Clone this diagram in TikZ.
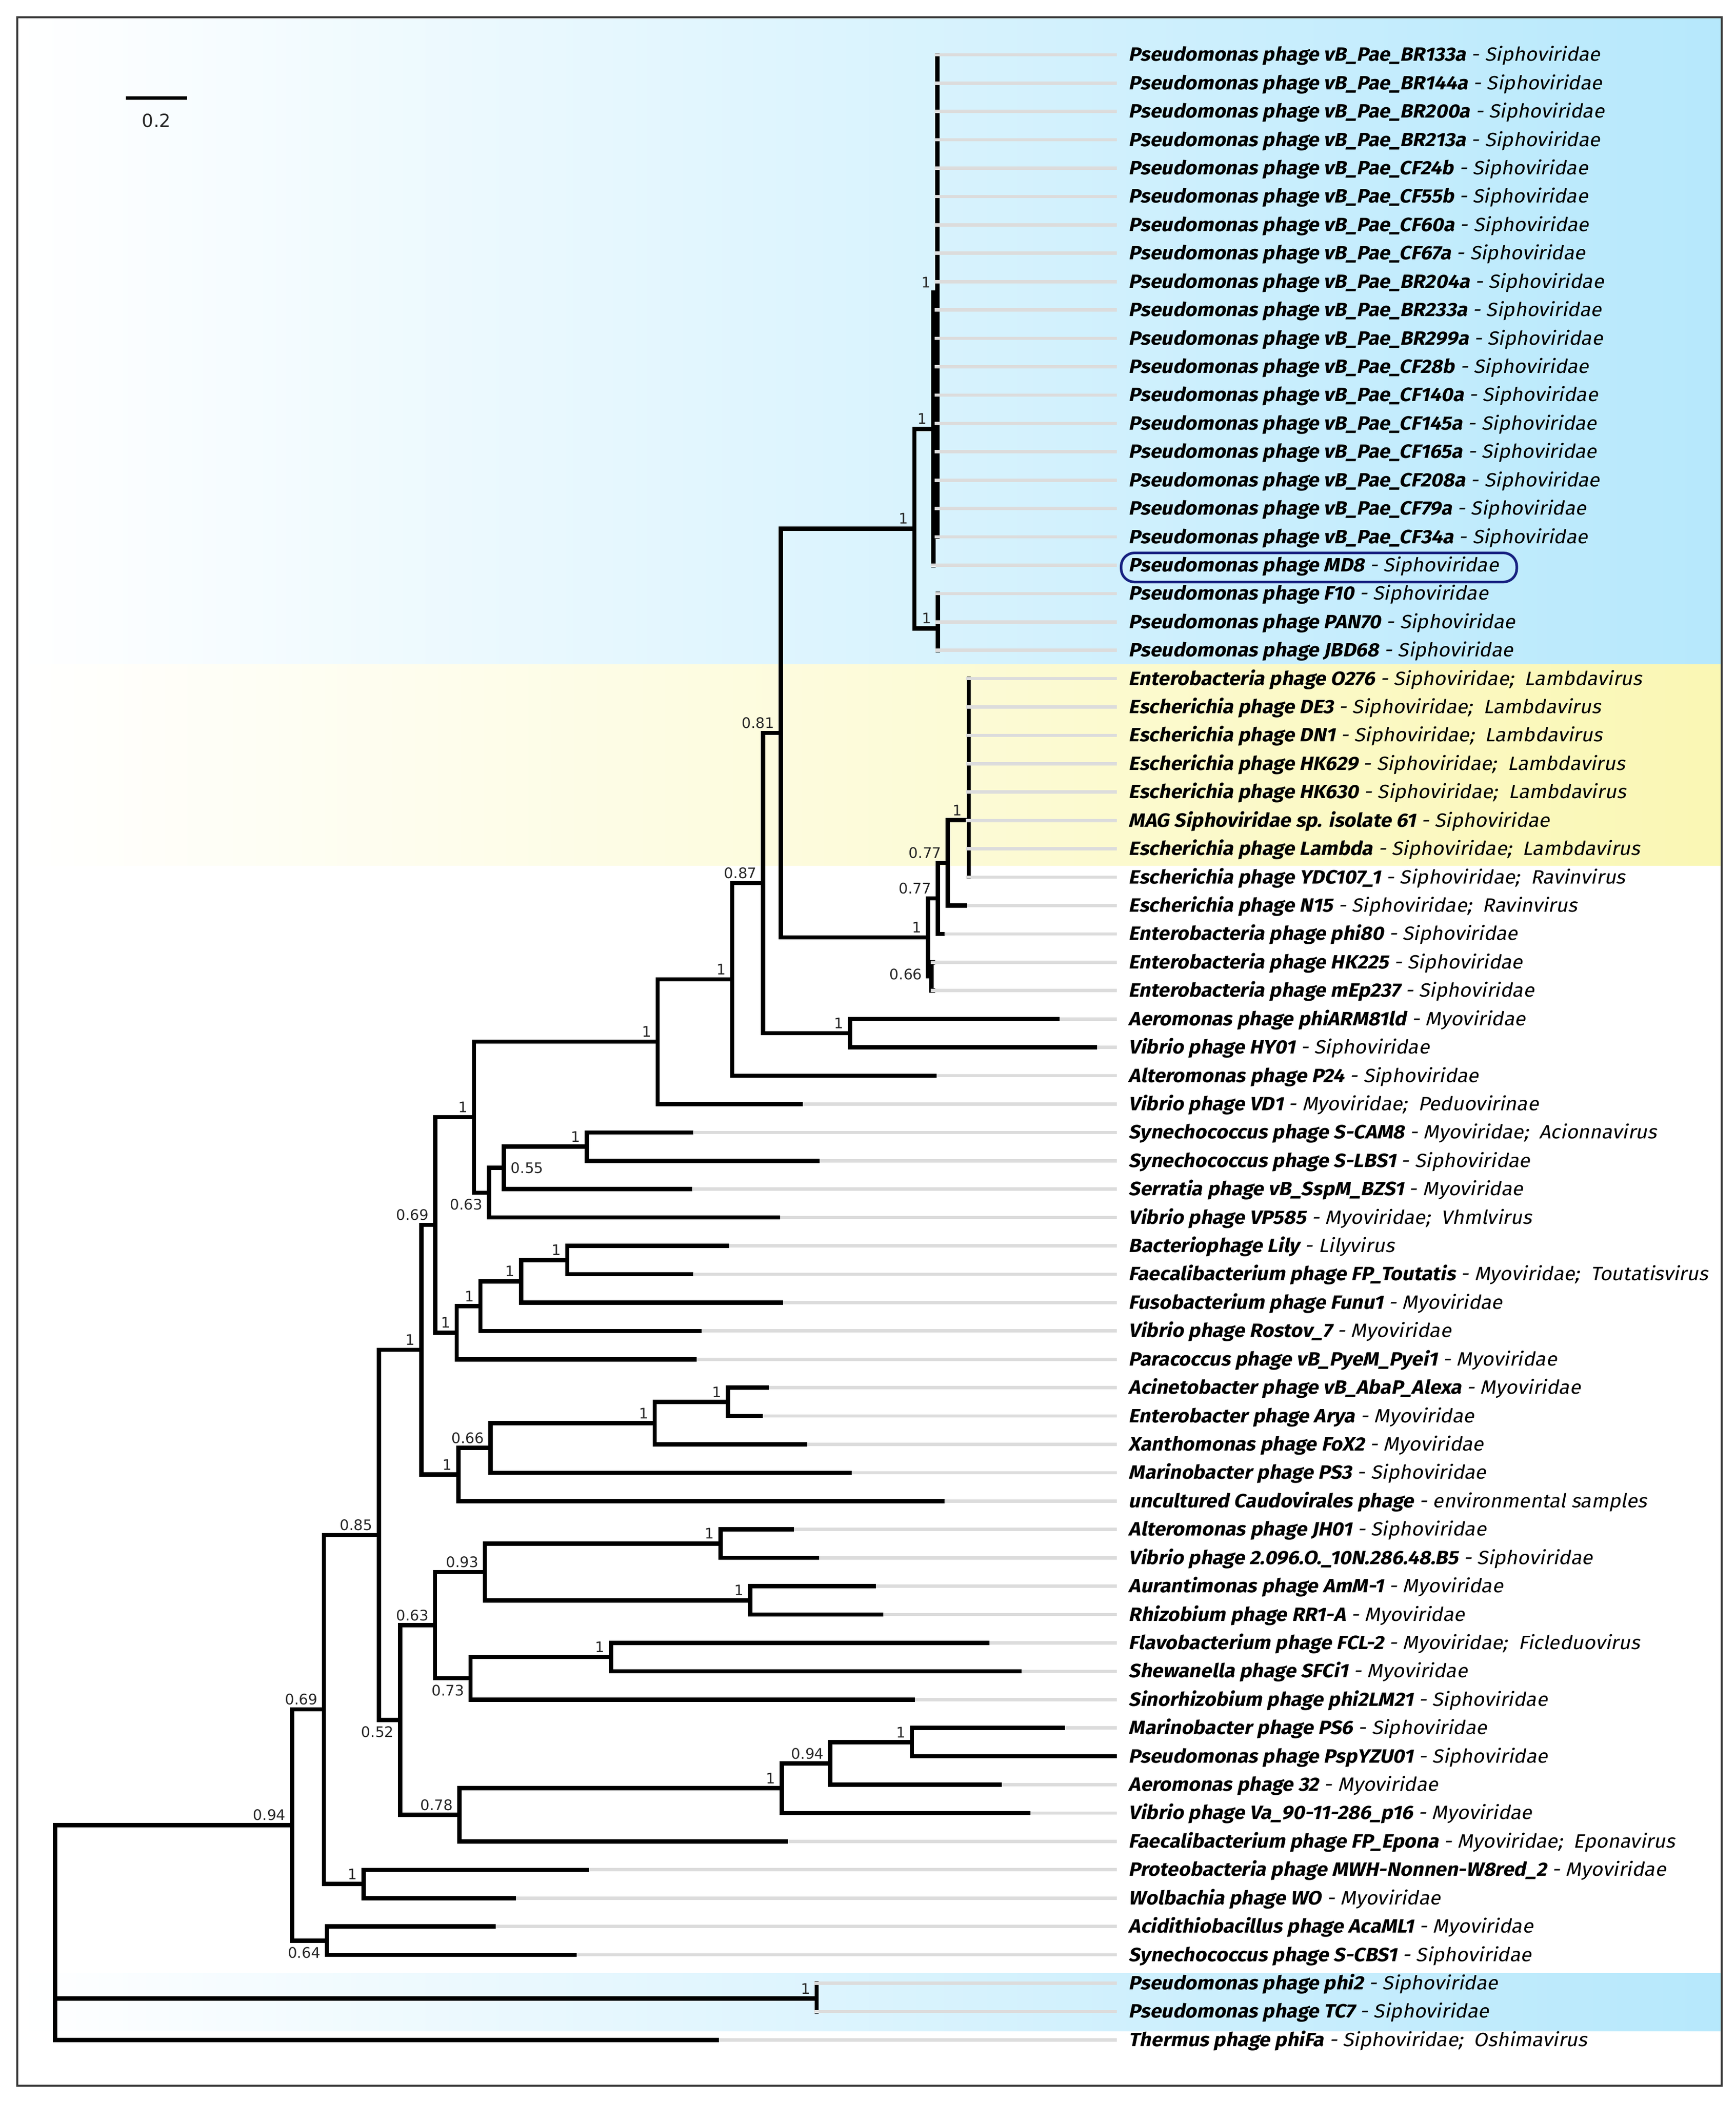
\documentclass[tikz,border=0pt]{standalone}
\usepackage{fontspec}
\setmainfont{DejaVu Sans}
\newfontfamily\lblfont{Fira Sans}[ItalicFont={Fira Sans}, ItalicFeatures={FakeSlant=0.2}, BoldItalicFont={Fira Sans Bold}, BoldItalicFeatures={FakeSlant=0.2}, FakeStretch=1.05]
\definecolor{bandblue}{RGB}{182,232,252}
\definecolor{bandyellow}{RGB}{250,247,180}
\definecolor{leafgray}{RGB}{220,220,220}
\definecolor{ringblue}{RGB}{22,32,128}
\definecolor{framegray}{RGB}{60,60,60}
\newcommand{\tx}[2]{{\bfseries #1} - #2}
\newcommand{\leaf}[4]{%
  \coordinate (t#1) at (#2, {41+(#1-1)*21.235});
  \node[lbl] (l#1) at (836.5, {45.8+(#1-1)*21.235}) {\tx{#3}{#4}};
}
\tikzset{
  br/.style={line width=1.8pt, line cap=rect, black},
  gry/.style={line width=1.4pt, leafgray, shorten <=0.9pt},
  gryx/.style={line width=1.4pt, leafgray, shorten <=-0.04cm},
  lbl/.style={anchor=base west, inner xsep=0.17cm, inner ysep=0pt, text=black,
    font=\lblfont\itshape\fontsize{8.2}{9.5}\selectfont},
  supbase/.style={inner sep=0pt, text=black!85, font=\fontsize{6.2}{7}\selectfont},
  supa/.style={supbase, anchor=base east, shift={(-4.5,-3.5)}},
  supb/.style={supbase, anchor=north east, shift={(-4.5,4.5)}},
  supr/.style={supbase, anchor=west, shift={(5,0)}},
  frameline/.style={draw=framegray, line width=0.8pt},
  ring/.style={draw=ringblue, line width=1.1pt, rounded corners=0.2cm,
    minimum width=5.928cm, minimum height=0.436cm, inner sep=0pt},
}
\begin{document}
\begin{tikzpicture}[x=0.02cm, y=-0.02cm]
\useasboundingbox (0,0) rectangle (1300,1573.2);
\fill[white] (0,0) rectangle (1300,1573.2);
% colour bands
\shade[left color=white, right color=bandblue] (13,13) rectangle (1289.4,497.6);
\shade[left color=white, right color=bandyellow] (13,497.6) rectangle (1289.4,648);
\shade[left color=white, right color=bandblue] (13,1477.5) rectangle (1289.4,1521);
\draw[frameline] (13,13) rectangle (1289.4,1561.6);

% scale bar
\coordinate (sb1) at (94.3,73.3);
\coordinate (sb2) at (140.2,73.3);
\draw[line width=1.5pt] (sb1) -- (sb2);
\node[inner sep=0pt, font=\fontsize{7.7}{9}\selectfont, text=black!85] (sbl) at (117.2,90.3) {0.2};

% leaves
\leaf{1}{702}{Pseudomonas phage vB\_Pae\_BR133a}{Siphoviridae}
\leaf{2}{702}{Pseudomonas phage vB\_Pae\_BR144a}{Siphoviridae}
\leaf{3}{702}{Pseudomonas phage vB\_Pae\_BR200a}{Siphoviridae}
\leaf{4}{702}{Pseudomonas phage vB\_Pae\_BR213a}{Siphoviridae}
\leaf{5}{702}{Pseudomonas phage vB\_Pae\_CF24b}{Siphoviridae}
\leaf{6}{702}{Pseudomonas phage vB\_Pae\_CF55b}{Siphoviridae}
\leaf{7}{702}{Pseudomonas phage vB\_Pae\_CF60a}{Siphoviridae}
\leaf{8}{702}{Pseudomonas phage vB\_Pae\_CF67a}{Siphoviridae}
\leaf{9}{702}{Pseudomonas phage vB\_Pae\_BR204a}{Siphoviridae}
\leaf{10}{702}{Pseudomonas phage vB\_Pae\_BR233a}{Siphoviridae}
\leaf{11}{702}{Pseudomonas phage vB\_Pae\_BR299a}{Siphoviridae}
\leaf{12}{702}{Pseudomonas phage vB\_Pae\_CF28b}{Siphoviridae}
\leaf{13}{702}{Pseudomonas phage vB\_Pae\_CF140a}{Siphoviridae}
\leaf{14}{702}{Pseudomonas phage vB\_Pae\_CF145a}{Siphoviridae}
\leaf{15}{702}{Pseudomonas phage vB\_Pae\_CF165a}{Siphoviridae}
\leaf{16}{702}{Pseudomonas phage vB\_Pae\_CF208a}{Siphoviridae}
\leaf{17}{702}{Pseudomonas phage vB\_Pae\_CF79a}{Siphoviridae}
\leaf{18}{702}{Pseudomonas phage vB\_Pae\_CF34a}{Siphoviridae}
\leaf{19}{699.2}{Pseudomonas phage MD8}{Siphoviridae}
\leaf{20}{702.5}{Pseudomonas phage F10}{Siphoviridae}
\leaf{21}{702.5}{Pseudomonas phage PAN70}{Siphoviridae}
\leaf{22}{702.5}{Pseudomonas phage JBD68}{Siphoviridae}
\leaf{23}{725.5}{Enterobacteria phage O276}{Siphoviridae;\ \ Lambdavirus}
\leaf{24}{725.5}{Escherichia phage DE3}{Siphoviridae;\ \ Lambdavirus}
\leaf{25}{725.5}{Escherichia phage DN1}{Siphoviridae;\ \ Lambdavirus}
\leaf{26}{725.5}{Escherichia phage HK629}{Siphoviridae;\ \ Lambdavirus}
\leaf{27}{725.5}{Escherichia phage HK630}{Siphoviridae;\ \ Lambdavirus}
\leaf{28}{725.5}{MAG Siphoviridae sp. isolate 61}{Siphoviridae}
\leaf{29}{725.5}{Escherichia phage Lambda}{Siphoviridae;\ \ Lambdavirus}
\leaf{30}{725.5}{Escherichia phage YDC107\_1}{Siphoviridae;\ \ Ravinvirus}
\leaf{31}{722.8}{Escherichia phage N15}{Siphoviridae;\ \ Ravinvirus}
\leaf{32}{706}{Enterobacteria phage phi80}{Siphoviridae}
\leaf{33}{699}{Enterobacteria phage HK225}{Siphoviridae}
\leaf{34}{699}{Enterobacteria phage mEp237}{Siphoviridae}
\leaf{35}{792}{Aeromonas phage phiARM81ld}{Myoviridae}
\leaf{36}{820}{Vibrio phage HY01}{Siphoviridae}
\leaf{37}{700}{Alteromonas phage P24}{Siphoviridae}
\leaf{38}{599.7}{Vibrio phage VD1}{Myoviridae;\ \ Peduovirinae}
\leaf{39}{517.6}{Synechococcus phage S-CAM8}{Myoviridae;\ \ Acionnavirus}
\leaf{40}{612.3}{Synechococcus phage S-LBS1}{Siphoviridae}
\leaf{41}{517}{Serratia phage vB\_SspM\_BZS1}{Myoviridae}
\leaf{42}{582.9}{Vibrio phage VP585}{Myoviridae;\ \ Vhmlvirus}
\leaf{43}{544.5}{Bacteriophage Lily}{Lilyvirus}
\leaf{44}{517.6}{Faecalibacterium phage FP\_Toutatis}{Myoviridae;\ \ Toutatisvirus}
\leaf{45}{584.8}{Fusobacterium phage Funu1}{Myoviridae}
\leaf{46}{523.8}{Vibrio phage Rostov\_7}{Myoviridae}
\leaf{47}{520.4}{Paracoccus phage vB\_PyeM\_Pyei1}{Myoviridae}
\leaf{48}{574.4}{Acinetobacter phage vB\_AbaP\_Alexa}{Myoviridae}
\leaf{49}{569.8}{Enterobacter phage Arya}{Myoviridae}
\leaf{50}{603.2}{Xanthomonas phage FoX2}{Myoviridae}
\leaf{51}{636.5}{Marinobacter phage PS3}{Siphoviridae}
\leaf{52}{705.9}{uncultured Caudovirales phage}{environmental samples}
\leaf{53}{593.2}{Alteromonas phage JH01}{Siphoviridae}
\leaf{54}{611.9}{Vibrio phage 2.096.O.\_10N.286.48.B5}{Siphoviridae}
\leaf{55}{654.3}{Aurantimonas phage AmM-1}{Myoviridae}
\leaf{56}{660}{Rhizobium phage RR1-A}{Myoviridae}
\leaf{57}{739.5}{Flavobacterium phage FCL-2}{Myoviridae;\ \ Ficleduovirus}
\leaf{58}{763.6}{Shewanella phage SFCi1}{Myoviridae}
\leaf{59}{683.8}{Sinorhizobium phage phi2LM21}{Siphoviridae}
\leaf{60}{796}{Marinobacter phage PS6}{Siphoviridae}
\leaf{61}{835}{Pseudomonas phage PspYZU01}{Siphoviridae}
\leaf{62}{748.7}{Aeromonas phage 32}{Myoviridae}
\leaf{63}{770.1}{Vibrio phage Va\_90-11-286\_p16}{Myoviridae}
\leaf{64}{588.6}{Faecalibacterium phage FP\_Epona}{Myoviridae;\ \ Eponavirus}
\leaf{65}{439.6}{Proteobacteria phage MWH-Nonnen-W8red\_2}{Myoviridae}
\leaf{66}{385}{Wolbachia phage WO}{Myoviridae}
\leaf{67}{369.7}{Acidithiobacillus phage AcaML1}{Myoviridae}
\leaf{68}{430.5}{Synechococcus phage S-CBS1}{Siphoviridae}
\leaf{69}{611.7}{Pseudomonas phage phi2}{Siphoviridae}
\leaf{70}{611.7}{Pseudomonas phage TC7}{Siphoviridae}
\leaf{71}{536.7}{Thermus phage phiFa}{Siphoviridae;\ \ Oshimavirus}

% highlight of MD8
\node[ring] (md8ring) at (987.9,424.9) {};

% internal nodes
\coordinate (nPAE) at (702,219);
\coordinate (nMD) at (699.2,321.1);
\coordinate (nF10) at (702.5,470.5);
\coordinate (nTop) at (684.9,395.8);
\coordinate (nLam) at (725.5,614.1);
\coordinate (n077a) at (709.9,646.1);
\coordinate (n077b) at (702.4,672.7);
\coordinate (n066) at (697.6,731.1);
\coordinate (nE1) at (695.1,701.9);
\coordinate (n081) at (584.8,548.85);
\coordinate (nARM) at (636.7,773.6);
\coordinate (n087) at (571.6,661.2);
\coordinate (nP24) at (548.5,733.3);
\coordinate (nVD1) at (492.6,780.0);
\coordinate (nCAM) at (439.6,858.55);
\coordinate (n055) at (377.4,874.5);
\coordinate (n063a) at (366.2,893.1);
\coordinate (n1b) at (355.0,836.55);
\coordinate (nLily) at (424.9,943.5);
\coordinate (nFunu) at (390.4,959.4);
\coordinate (nRost) at (359.8,978.0);
\coordinate (nPyei) at (342.1,997.9);
\coordinate (n069a) at (326.0,917.2);
\coordinate (nAlexa) at (545.2,1049.7);
\coordinate (nFoX) at (490.4,1065.6);
\coordinate (n066b) at (367.4,1084.2);
\coordinate (nUnc) at (343.3,1104.1);
\coordinate (n1c) at (315.7,1010.65);
\coordinate (nJH) at (539.7,1155.8);
\coordinate (nAmM) at (561.9,1198.3);
\coordinate (n093) at (363.2,1177.05);
\coordinate (nFCL) at (457.6,1240.8);
\coordinate (n073) at (352.5,1256.7);
\coordinate (n063b) at (325.8,1216.9);
\coordinate (nPS6) at (683.0,1304.5);
\coordinate (n094b) at (621.9,1320.4);
\coordinate (nVa) at (585.6,1339.0);
\coordinate (n078) at (344.1,1358.9);
\coordinate (n052) at (299.8,1287.9);
\coordinate (n085) at (283.8,1149.3);
\coordinate (nMWH) at (272.3,1410.7);
\coordinate (n069b) at (242.6,1280.0);
\coordinate (n064) at (244.8,1453.1);
\coordinate (n094) at (218.8,1366.55);
\coordinate (nPhi2) at (611.7,1496.5);
\coordinate (root) at (41.3,1447);

% branches
\foreach \i in {1,...,18} {\draw[br] (nPAE) |- (t\i);}
\draw[br] (nMD) |- (nPAE);  \draw[br] (nMD) |- (t19);
\foreach \i in {20,21,22} {\draw[br] (nF10) |- (t\i);}
\draw[br] (nTop) |- (nMD);  \draw[br] (nTop) |- (nF10);
\foreach \i in {23,...,30} {\draw[br] (nLam) |- (t\i);}
\draw[br] (n077a) |- (nLam); \draw[br] (n077a) |- (t31);
\draw[br] (n077b) |- (n077a); \draw[br] (n077b) |- (t32);
\draw[br] (n066) |- (t33); \draw[br] (n066) |- (t34);
\draw[br] (nE1) |- (n077b); \draw[br] (nE1) |- (n066);
\draw[br] (n081) |- (nTop); \draw[br] (n081) |- (nE1);
\draw[br] (nARM) |- (t35); \draw[br] (nARM) |- (t36);
\draw[br] (n087) |- (n081); \draw[br] (n087) |- (nARM);
\draw[br] (nP24) |- (n087); \draw[br] (nP24) |- (t37);
\draw[br] (nVD1) |- (nP24); \draw[br] (nVD1) |- (t38);
\draw[br] (nCAM) |- (t39); \draw[br] (nCAM) |- (t40);
\draw[br] (n055) |- (nCAM); \draw[br] (n055) |- (t41);
\draw[br] (n063a) |- (n055); \draw[br] (n063a) |- (t42);
\draw[br] (n1b) |- (nVD1); \draw[br] (n1b) |- (n063a);
\draw[br] (nLily) |- (t43); \draw[br] (nLily) |- (t44);
\draw[br] (nFunu) |- (nLily); \draw[br] (nFunu) |- (t45);
\draw[br] (nRost) |- (nFunu); \draw[br] (nRost) |- (t46);
\draw[br] (nPyei) |- (nRost); \draw[br] (nPyei) |- (t47);
\draw[br] (n069a) |- (n1b); \draw[br] (n069a) |- (nPyei);
\draw[br] (nAlexa) |- (t48); \draw[br] (nAlexa) |- (t49);
\draw[br] (nFoX) |- (nAlexa); \draw[br] (nFoX) |- (t50);
\draw[br] (n066b) |- (nFoX); \draw[br] (n066b) |- (t51);
\draw[br] (nUnc) |- (n066b); \draw[br] (nUnc) |- (t52);
\draw[br] (n1c) |- (n069a); \draw[br] (n1c) |- (nUnc);
\draw[br] (nJH) |- (t53); \draw[br] (nJH) |- (t54);
\draw[br] (nAmM) |- (t55); \draw[br] (nAmM) |- (t56);
\draw[br] (n093) |- (nJH); \draw[br] (n093) |- (nAmM);
\draw[br] (nFCL) |- (t57); \draw[br] (nFCL) |- (t58);
\draw[br] (n073) |- (nFCL); \draw[br] (n073) |- (t59);
\draw[br] (n063b) |- (n093); \draw[br] (n063b) |- (n073);
\draw[br] (nPS6) |- (t60); \draw[br] (nPS6) |- (t61);
\draw[br] (n094b) |- (nPS6); \draw[br] (n094b) |- (t62);
\draw[br] (nVa) |- (n094b); \draw[br] (nVa) |- (t63);
\draw[br] (n078) |- (nVa); \draw[br] (n078) |- (t64);
\draw[br] (n052) |- (n063b); \draw[br] (n052) |- (n078);
\draw[br] (n085) |- (n1c); \draw[br] (n085) |- (n052);
\draw[br] (nMWH) |- (t65); \draw[br] (nMWH) |- (t66);
\draw[br] (n069b) |- (n085); \draw[br] (n069b) |- (nMWH);
\draw[br] (n064) |- (t67); \draw[br] (n064) |- (t68);
\draw[br] (n094) |- (n069b); \draw[br] (n094) |- (n064);
\draw[br] (nPhi2) |- (t69); \draw[br] (nPhi2) |- (t70);
\draw[br] (root) |- (n094); \draw[br] (root) |- (nPhi2); \draw[br] (root) |- (t71);

% grey leaf extensions (over the clustered verticals, after the others' tips)
\foreach \i in {1,...,30,33,34,69,70} {\draw[gryx] (t\i) -- (t\i -| l\i.west);}
\foreach \i in {31,32,35,36,...,68,71} {\draw[gry] (t\i) -- (t\i -| l\i.west);}

% support values
\node[supa] (sPAE) at (nPAE) {1};
\node[supa] (sMD) at (nMD) {1};
\node[supa] (sF10) at (nF10) {1};
\node[supa] (sTop) at (nTop) {1};
\node[supa] (sLam) at (nLam) {1};
\node[supa] (s077a) at (n077a) {0.77};
\node[supa] (s077b) at (n077b) {0.77};
\node[supbase, anchor=east] (s066) at (691,729.5) {0.66};
\node[supa] (sE1) at (nE1) {1};
\node[supa] (s081) at (n081) {0.81};
\node[supa] (sARM) at (nARM) {1};
\node[supa] (s087) at (n087) {0.87};
\node[supa] (sP24) at (nP24) {1};
\node[supa] (sVD1) at (nVD1) {1};
\node[supa] (sCAM) at (nCAM) {1};
\node[supr] (s055) at (n055) {0.55};
\node[supb] (s063a) at (n063a) {0.63};
\node[supa] (s1b) at (n1b) {1};
\node[supa] (sLily) at (nLily) {1};
\node[supa] (sFunu) at (nFunu) {1};
\node[supa] (sRost) at (nRost) {1};
\node[supa] (sPyei) at (nPyei) {1};
\node[supa] (s069a) at (n069a) {0.69};
\node[supa] (sAlexa) at (nAlexa) {1};
\node[supa] (sFoX) at (nFoX) {1};
\node[supa] (s066b) at (n066b) {0.66};
\node[supa] (sUnc) at (nUnc) {1};
\node[supa] (s1c) at (n1c) {1};
\node[supa] (sJH) at (nJH) {1};
\node[supa] (sAmM) at (nAmM) {1};
\node[supa] (s093) at (n093) {0.93};
\node[supa] (sFCL) at (nFCL) {1};
\node[supb] (s073) at (n073) {0.73};
\node[supa] (s063b) at (n063b) {0.63};
\node[supa] (sPS6) at (nPS6) {1};
\node[supa] (s094b) at (n094b) {0.94};
\node[supa] (sVa) at (nVa) {1};
\node[supa] (s078) at (n078) {0.78};
\node[supb] (s052) at (n052) {0.52};
\node[supa] (s085) at (n085) {0.85};
\node[supa] (sMWH) at (nMWH) {1};
\node[supa] (s069b) at (n069b) {0.69};
\node[supb] (s064) at (n064) {0.64};
\node[supa] (s094) at (n094) {0.94};
\node[supa] (sPhi2) at (nPhi2) {1};
\end{tikzpicture}
\end{document}
